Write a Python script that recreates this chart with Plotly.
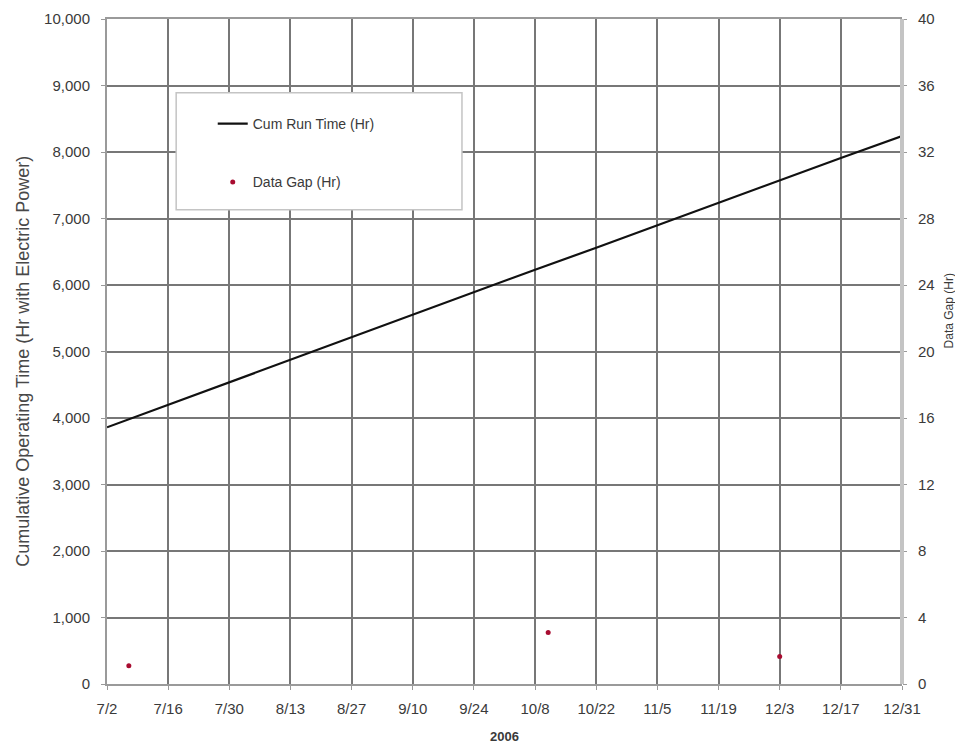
import plotly.graph_objects as go

# ---- data ----
run_dates = ["2006-07-02", "2006-07-16", "2006-07-30", "2006-08-13", "2006-08-27",
             "2006-09-10", "2006-09-24", "2006-10-08", "2006-10-22", "2006-11-05",
             "2006-11-19", "2006-12-03", "2006-12-17", "2006-12-31"]
cum_run_time = [3860, 4200, 4540, 4880, 5210, 5550, 5890, 6230, 6560, 6900,
                7230, 7570, 7910, 8240]

gap_dates = ["2006-07-07", "2006-10-11", "2006-12-03"]
gap_hours = [1.1, 3.1, 1.65]

tick_dates = ["2006-07-02", "2006-07-16", "2006-07-30", "2006-08-13", "2006-08-27",
              "2006-09-10", "2006-09-24", "2006-10-08", "2006-10-22", "2006-11-05",
              "2006-11-19", "2006-12-03", "2006-12-17", "2006-12-31"]
tick_labels = ["7/2", "7/16", "7/30", "8/13", "8/27", "9/10", "9/24", "10/8",
               "10/22", "11/5", "11/19", "12/3", "12/17", "12/31"]

FONT = "Liberation Sans, Arial, sans-serif"
GRID = "#777777"
TXT = "#3a3a3a"

fig = go.Figure()
fig.add_trace(go.Scatter(x=run_dates, y=cum_run_time, mode="lines",
                         name="Cum Run Time (Hr)", legendgroup="a",
                         line=dict(color="#111111", width=2.2)))
fig.add_trace(go.Scatter(x=gap_dates, y=gap_hours, mode="markers", yaxis="y2",
                         name="Data Gap (Hr)", legendgroup="b",
                         marker=dict(color="#a80c30", size=5)))

# legend box
fig.add_shape(type="rect", xref="paper", yref="paper",
              x0=0.087, x1=0.4465, y0=0.713, y1=0.889,
              fillcolor="white", line=dict(color="#c4c4c4", width=1.5), layer="above")
# right shadow border
fig.add_shape(type="line", xref="paper", yref="paper", x0=1.0, x1=1.0, y0=0, y1=1,
              line=dict(color="#c4c4c4", width=4), layer="above")

# axis titles placed as in the reference
fig.add_annotation(text="Cumulative Operating Time (Hr with Electric Power)",
                   xref="paper", yref="paper", x=-0.1057, y=0.486, textangle=-90,
                   showarrow=False, xanchor="center", yanchor="middle",
                   font=dict(family=FONT, size=18, color="#484848"))
fig.add_annotation(text="Data Gap (Hr)", xref="paper", yref="paper",
                   x=1.0585, y=0.561, textangle=-90, showarrow=False,
                   xanchor="center", yanchor="middle",
                   font=dict(family=FONT, size=12, color=TXT))

fig.update_layout(
    width=955, height=740,
    margin=dict(l=99, r=61, t=11, b=64, autoexpand=False),
    paper_bgcolor="white", plot_bgcolor="white",
    font=dict(family=FONT, size=14, color=TXT),
    showlegend=True,
    legend=dict(x=0.133, y=0.866, xanchor="left", yanchor="top",
                bgcolor="rgba(0,0,0,0)", tracegroupgap=37,
                font=dict(family=FONT, size=14, color=TXT),
                itemwidth=30),
    xaxis=dict(type="date", range=["2006-07-02", "2006-12-31"],
               tickvals=tick_dates, ticktext=tick_labels,
               tickfont=dict(size=15, color=TXT), automargin=False,
               showgrid=True, gridcolor=GRID, gridwidth=2,
               showline=True, linecolor="#9a9a9a", linewidth=2, mirror=True,
               ticks="outside", ticklen=4, tickcolor="#999999",
               ticklabelstandoff=6,
               title=dict(text="<b>2006</b>", font=dict(size=13, color=TXT), standoff=16),
               zeroline=False),
    yaxis=dict(range=[0, 10000], tickvals=list(range(0, 10001, 1000)),
               tickformat=",d", tickfont=dict(size=15, color=TXT), automargin=False,
               showgrid=True, gridcolor=GRID, gridwidth=2,
               showline=True, linecolor="#9a9a9a", linewidth=2,
               ticks="outside", ticklen=4, tickcolor="#999999",
               ticklabelstandoff=8,
               zeroline=False),
    yaxis2=dict(range=[0, 40], tickvals=list(range(0, 41, 4)), overlaying="y",
                side="right", showgrid=False, showline=False, automargin=False,
                tickfont=dict(size=15, color=TXT),
                ticks="outside", ticklen=4, tickcolor="#999999",
                ticklabelstandoff=8,
                zeroline=False),
)

fig.write_html("out.html")
